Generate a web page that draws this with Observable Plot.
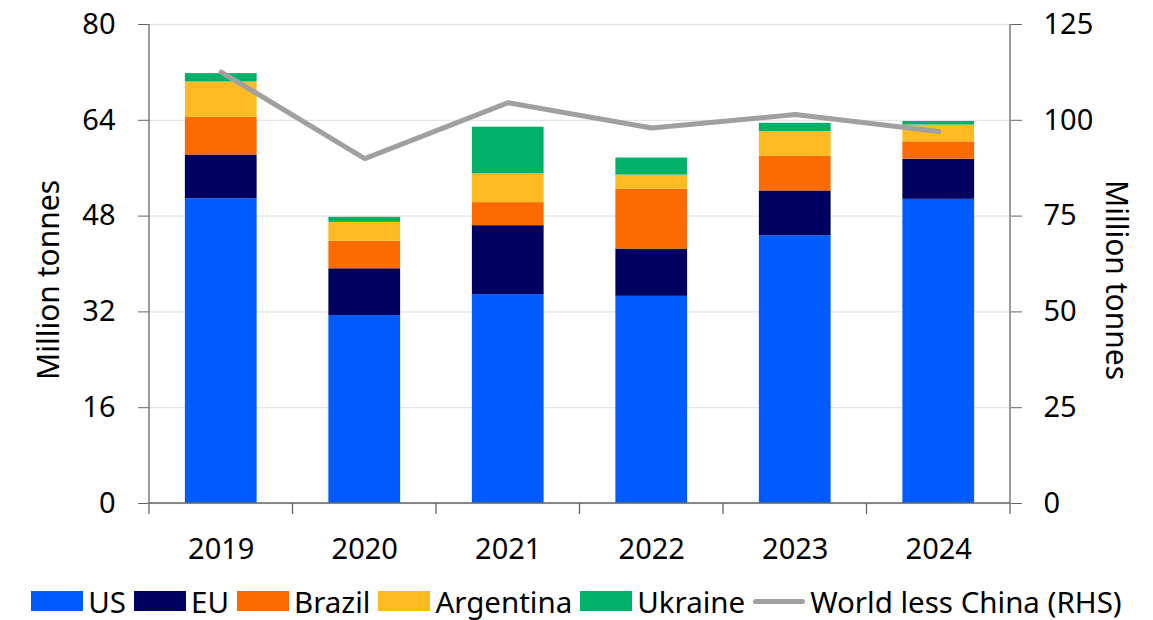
<!DOCTYPE html>
<html>
<head>
<meta charset="utf-8">
<script src="https://cdn.jsdelivr.net/npm/d3@7"></script>
<script src="https://cdn.jsdelivr.net/npm/@observablehq/plot@0.6"></script>
<style>
  html, body { margin: 0; padding: 0; background: #fff; }
  body { width: 1153px; height: 620px; overflow: hidden; font-family: "Noto Sans", "Open Sans", sans-serif; position: relative; }
  #chart svg { display: block; }
  #legend { position: absolute; left: 0; top: 570px; width: 1153px; display: flex; justify-content: center; align-items: center; height: 62px; font-size: 29.5px; color: #000; white-space: nowrap; }
  .item { display: flex; align-items: center; margin: 0 4px; flex-shrink: 0; }
  .sw { width: 52px; height: 20px; margin-right: 5px; flex-shrink: 0; }
  .ln { width: 52px; height: 5px; border-radius: 3px; margin-right: 5px; flex-shrink: 0; }
</style>
</head>
<body>
<div id="chart"></div>
<div id="legend"></div>
<script>
// ---- Data ----
const years = ["2019", "2020", "2021", "2022", "2023", "2024"];
const seriesNames = ["US", "EU", "Brazil", "Argentina", "Ukraine"];
const us        = [50.9, 31.4, 34.9, 34.6, 44.7, 50.8];
const eu        = [7.3, 7.8, 11.5, 7.9, 7.5, 6.7];
const brazil    = [6.3, 4.6, 3.85, 10.0, 5.8, 2.9];
const argentina = [5.9, 3.15, 4.8, 2.35, 4.1, 2.8];
const ukraine   = [1.4, 0.85, 7.8, 2.85, 1.4, 0.6];
const worldLessChina = [112.6, 90.0, 104.6, 98.0, 101.5, 97.1]; // RHS
const leftTicks = [0, 16, 32, 48, 64, 80];
const rightTicks = [0, 25, 50, 75, 100, 125];
const lineLabel = "World less China (RHS)";
const axisTitle = "Million tonnes";
const colors = ["#005CFF", "#00005F", "#FC6A02", "#FDBA22", "#00B16A"];
const lineColor = "#A0A0A0";

const seriesValues = [us, eu, brazil, argentina, ukraine];
const leftMax = leftTicks[leftTicks.length - 1];
const rightMax = rightTicks[rightTicks.length - 1];
const ratio = leftMax / rightMax;

const rows = [];
years.forEach((y, i) => seriesNames.forEach((s, j) => rows.push({year: y, series: s, value: seriesValues[j][i]})));
const lineRows = years.map((y, i) => ({year: y, value: worldLessChina[i]}));

const W = 1153, H = 570;
const mL = 149, mR = 143, mT = 24, mB = 67;
const fontSize = 29;

const plot = Plot.plot({
  width: W, height: H,
  marginLeft: mL, marginRight: mR, marginTop: mT, marginBottom: mB,
  style: {fontFamily: '"Noto Sans", "Open Sans", sans-serif', fontSize: fontSize + "px", color: "#000", background: "#fff", overflow: "visible"},
  x: {domain: years, paddingInner: 0.5, paddingOuter: 0.25, round: false, label: null},
  y: {domain: [0, leftMax], label: null},
  color: {domain: seriesNames, range: colors},
  marks: [
    Plot.gridY(leftTicks, {stroke: "#E4E4E4", strokeOpacity: 1, strokeWidth: 1.3}),
    Plot.barY(rows, {x: "year", y: "value", fill: "series", order: seriesNames, inset: 0}),
    Plot.line(lineRows, {x: "year", y: d => d.value * ratio, stroke: lineColor, strokeWidth: 5, strokeLinecap: "round", strokeLinejoin: "miter"}),
    Plot.axisY(leftTicks, {anchor: "left", tickSize: 11, tickPadding: 23, stroke: "#666", label: null, fill: "#000"}),
    Plot.axisY(rightTicks.map(t => t * ratio), {anchor: "right", tickSize: 11, tickPadding: 22, stroke: "#666", label: null, fill: "#000", tickFormat: d => String(Math.round(d / ratio))}),
    Plot.axisX({anchor: "bottom", tickSize: 0, tickPadding: 35, label: null, fill: "#000"})
  ]
});
document.getElementById("chart").appendChild(plot);

// Axis lines, category boundary ticks and axis titles
const svg = d3.select(plot);
const xs = plot.scale("x"), ys = plot.scale("y");
const x0 = xs.range[0], x1 = xs.range[1];
const yTop = ys.apply(leftMax), yBase = ys.apply(0);
const g = svg.append("g").attr("stroke", "#666").attr("stroke-width", 1.3);
g.append("line").attr("x1", x0).attr("x2", x1).attr("y1", yBase).attr("y2", yBase);
g.append("line").attr("x1", x0).attr("x2", x0).attr("y1", yTop).attr("y2", yBase + 11);
g.append("line").attr("x1", x1).attr("x2", x1).attr("y1", yTop).attr("y2", yBase + 11);
years.forEach((y, i) => {
  if (i === 0) return;
  const bound = xs.apply(y) - (xs.step - xs.bandwidth) / 2;
  g.append("line").attr("x1", bound).attr("x2", bound).attr("y1", yBase).attr("y2", yBase + 11);
});
const titleY = 280;
svg.append("text").text(axisTitle)
  .attr("transform", `translate(${47},${titleY}) rotate(-90)`)
  .attr("text-anchor", "middle").attr("dominant-baseline", "central")
  .attr("font-size", 30).attr("fill", "#000");
svg.append("text").text(axisTitle)
  .attr("transform", `translate(${1117},${titleY}) rotate(90)`)
  .attr("text-anchor", "middle").attr("dominant-baseline", "central")
  .attr("font-size", 30).attr("fill", "#000");

// Legend
const legend = document.getElementById("legend");
seriesNames.forEach((s, i) => {
  const it = document.createElement("div"); it.className = "item";
  const sw = document.createElement("div"); sw.className = "sw"; sw.style.background = colors[i];
  const tx = document.createElement("span"); tx.textContent = s;
  it.appendChild(sw); it.appendChild(tx); legend.appendChild(it);
});
{
  const it = document.createElement("div"); it.className = "item";
  const sw = document.createElement("div"); sw.className = "ln"; sw.style.background = lineColor;
  const tx = document.createElement("span"); tx.textContent = lineLabel;
  it.appendChild(sw); it.appendChild(tx); legend.appendChild(it);
}
</script>
</body>
</html>
